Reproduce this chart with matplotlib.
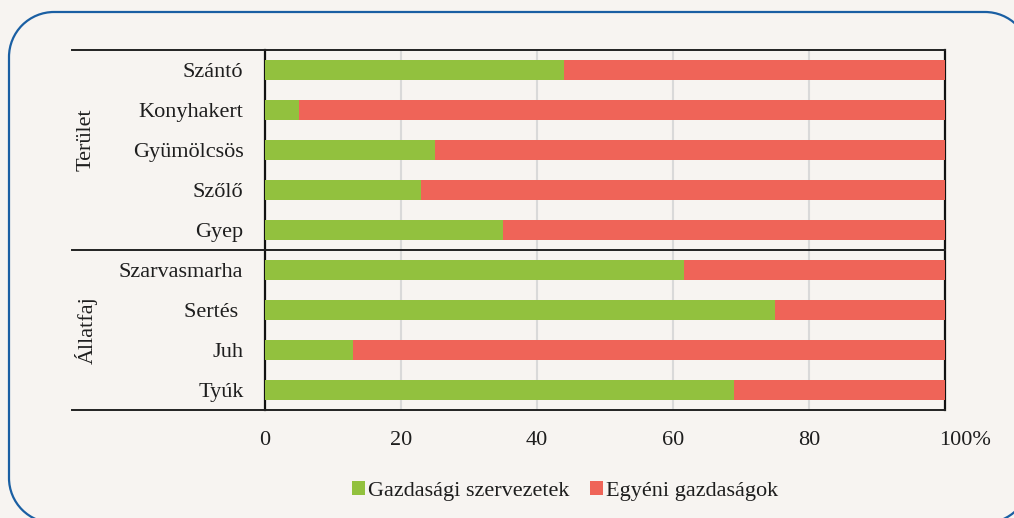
import matplotlib
matplotlib.use("Agg")
import numpy as np
import matplotlib.pyplot as plt
from matplotlib.patches import PathPatch
from matplotlib.path import Path
from matplotlib.lines import Line2D
import matplotlib.transforms as mtransforms

categories = ["Szántó", "Konyhakert", "Gyümölcsös", "Szőlő", "Gyep",
              "Szarvasmarha", "Sertés ", "Juh", "Tyúk"]
groups = ["Terület", "Állatfaj"]
group_sizes = [5, 4]
gazdasagi = [44, 5, 25, 23, 35, 61.6, 75, 13, 69]
egyeni = [100 - v for v in gazdasagi]
series_names = ["Gazdasági szervezetek", "Egyéni gazdaságok"]
xticks = [0, 20, 40, 60, 80, 100]
xtick_labels = ["0", "20", "40", "60", "80", "100%"]

GREEN = "#92C13E"
RED = "#EF6458"
BG = "#F7F4F1"
TXT = "#1E1E1E"
FS = 16

plt.rcParams['font.family'] = ['Liberation Serif', 'DejaVu Serif']

W, H = 1014, 518
fig = plt.figure(figsize=(W / 100, H / 100), dpi=100, facecolor=BG)


def rounded_rect(x0, y0, x1, y1, r):
    pieces = [((x1 - r, y0 + r), 270, 360),
              ((x1 - r, y1 - r), 0, 90),
              ((x0 + r, y1 - r), 90, 180),
              ((x0 + r, y0 + r), 180, 270)]
    verts, codes = [], []
    for (cx, cy), t1, t2 in pieces:
        a = Path.arc(t1, t2)
        v = a.vertices * r + np.array([cx, cy])
        c = a.codes.copy()
        if verts:
            c[0] = Path.LINETO
        verts.extend(v.tolist())
        codes.extend(c.tolist())
    verts.append(verts[0])
    codes.append(Path.CLOSEPOLY)
    return Path(verts, codes)


pix = mtransforms.Affine2D().scale(1 / W, 1 / H) + fig.transFigure
border = PathPatch(rounded_rect(9, H - 523, 1030, H - 12, 45), transform=pix,
                   facecolor="none", edgecolor="#1A5FA3", linewidth=1.6, clip_on=False)
fig.patches.append(border)

L, R, T, B = 265, 945, 50, 410
ax = fig.add_axes([L / W, 1 - B / H, (R - L) / W, (B - T) / H])
ax.set_facecolor(BG)

ypos = list(range(len(categories)))[::-1]
ax.barh(ypos, gazdasagi, height=0.5, color=GREEN, label=series_names[0], zorder=3)
ax.barh(ypos, egyeni, left=gazdasagi, height=0.5, color=RED, label=series_names[1], zorder=3)

ax.set_xlim(0, 100)
ax.set_ylim(-0.5, len(categories) - 0.5)
ax.set_yticks(ypos)
ax.set_yticklabels(categories, fontsize=FS, color=TXT)
ax.tick_params(axis='y', length=0, pad=15.5)
ax.set_xticks(xticks)
ax.set_xticklabels(xtick_labels, fontsize=FS, color=TXT)
ax.tick_params(axis='x', length=0, pad=15)
# shift the 100% label to the right like the reference
lab = ax.get_xticklabels()[-1]
lab.set_transform(lab.get_transform() + mtransforms.ScaledTranslation(20 / 100, 0, fig.dpi_scale_trans))

ax.grid(axis='x', color="#D9D9D9", linewidth=1.5, zorder=0)
ax.set_axisbelow(True)

for s in ['left', 'right']:
    ax.spines[s].set_color("#111111")
    ax.spines[s].set_linewidth(1.6)
ax.spines['top'].set_visible(False)
ax.spines['bottom'].set_visible(False)

# horizontal group lines extending to the left
x0 = (72 - L) / (R - L)
nrows = len(categories)
boundaries = [0]
acc = 0
for g in group_sizes:
    acc += g
    boundaries.append(acc)
for b in boundaries:
    yfrac = 1 - b / nrows
    ax.add_line(Line2D([x0, 1.0], [yfrac, yfrac], transform=ax.transAxes,
                       color="#222222", linewidth=1.4, clip_on=False, zorder=5))

# group labels
xg = (86 - L) / (R - L)
start = 0
for g, n in zip(groups, group_sizes):
    yc = 1 - (start + n / 2) / nrows
    if start == 0:
        yc += 0.028
    ax.text(xg, yc, g, transform=ax.transAxes, rotation=90,
            ha='center', va='center', fontsize=FS, color=TXT)
    start += n

fig.legend(loc='center', bbox_to_anchor=(565 / W, 1 - 491 / H), ncol=2,
           frameon=False, fontsize=FS, handlelength=0.6, handleheight=0.6,
           handletextpad=0.15, columnspacing=0.9, labelcolor=TXT)

fig.savefig("out.png", dpi=100, facecolor=BG)
